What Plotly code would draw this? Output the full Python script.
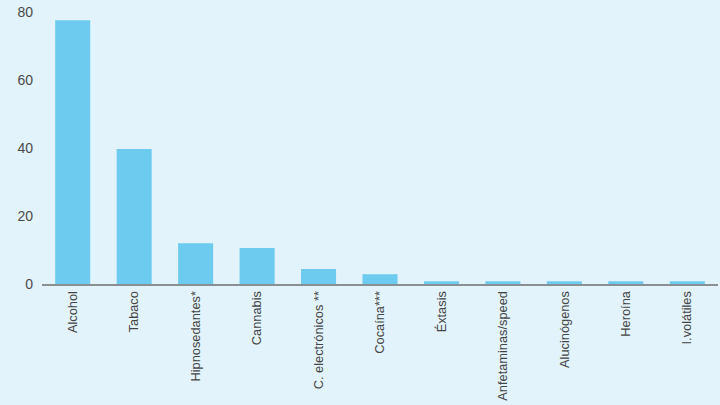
import plotly.graph_objects as go

categories = ["Alcohol", "Tabaco", "Hipnosedantes*", "Cannabis", "C. electrónicos **",
              "Cocaína***", "Éxtasis", "Anfetaminas/speed", "Alucinógenos", "Heroína", "I.volátiles"]
values = [77.6, 39.7, 12.0, 10.6, 4.4, 2.9, 0.8, 0.8, 0.8, 0.8, 0.8]
y_ticks = [0, 20, 40, 60, 80]

bg = "#e3f3fb"
fig = go.Figure(go.Bar(x=categories, y=values, marker_color="#6ccbef", marker_line_width=0))
fig.update_layout(
    width=720, height=405,
    paper_bgcolor=bg, plot_bgcolor=bg,
    margin=dict(l=42, r=2, t=12, b=121),
    bargap=0.43,
    showlegend=False,
    font=dict(family="Liberation Sans, Arial, sans-serif", color="#444"),
)
fig.update_yaxes(range=[0, 80], tickvals=y_ticks, showgrid=False, zeroline=False,
                 showline=False, tickfont=dict(size=14, color="#4a4a4a"), ticks="", ticklabelstandoff=8)
fig.update_xaxes(showline=True, linecolor="#8a8f94", linewidth=2, tickangle=-90,
                 tickfont=dict(size=12.8, color="#444"), ticks="", showgrid=False)
fig.write_html("out.html", config={"displayModeBar": False},
               post_script="document.body.style.margin='0';document.body.style.overflow='hidden';")
